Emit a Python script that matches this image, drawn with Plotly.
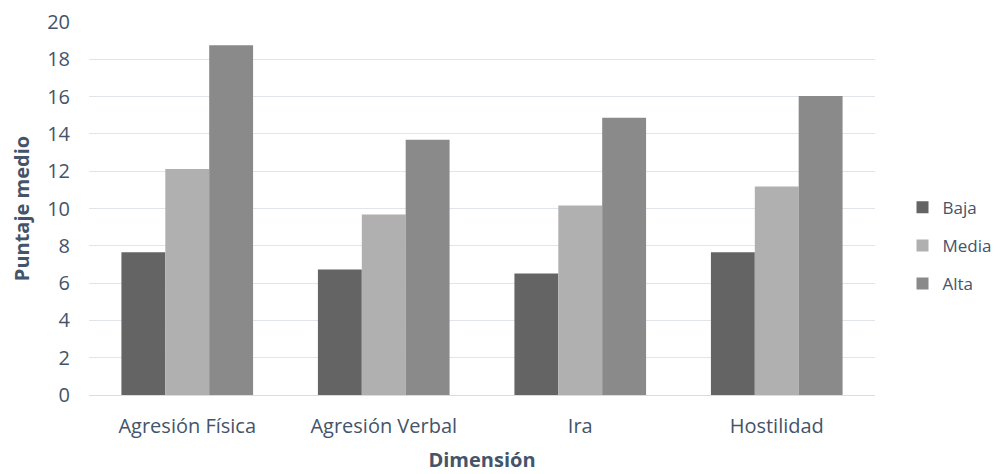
import plotly.graph_objects as go

categories = ["Agresión Física", "Agresión Verbal", "Ira", "Hostilidad"]
baja = [7.65, 6.73, 6.52, 7.66]
media = [12.12, 9.68, 10.16, 11.18]
alta = [18.76, 13.68, 14.86, 16.03]
series_names = ["Baja", "Media", "Alta"]
y_ticks = [0, 2, 4, 6, 8, 10, 12, 14, 16, 18, 20]

colors = ["#646464", "#b0b0b0", "#8a8a8a"]
text_color = "#44546a"
font_family = "Open Sans"
axis_font = 20
legend_font = 17

fig = go.Figure()
for name, vals, col in zip(series_names, [baja, media, alta], colors):
    fig.add_trace(go.Bar(
        x=categories, y=vals, name=name, legendgroup=name,
        marker=dict(color=col, line=dict(width=0)),
    ))

fig.update_layout(
    width=1000, height=474,
    paper_bgcolor="white", plot_bgcolor="white",
    margin=dict(l=81, r=128, t=14, b=87),
    barmode="group", bargap=0.33, bargroupgap=0,
    font=dict(family=font_family, size=axis_font, color=text_color),
    legend=dict(
        x=1.035, xanchor="left", y=0.40, yanchor="middle",
        traceorder="grouped", tracegroupgap=13,
        font=dict(size=legend_font, color=text_color),
        itemwidth=30,
    ),
    xaxis=dict(
        automargin=False,
        showgrid=False, showline=True, linecolor="#d9dde3", linewidth=1,
        ticks="", tickfont=dict(size=axis_font, color=text_color),
        ticklabelstandoff=13,
        title=dict(text="<b>Dimensión</b>", font=dict(size=axis_font, color=text_color), standoff=14),
    ),
    yaxis=dict(
        automargin=False,
        range=[0, 20], tickvals=y_ticks, showgrid=True,
        gridcolor="#e1e4e9", gridwidth=1, zeroline=False,
        showline=False, ticks="", ticklabelstandoff=18,
        tickfont=dict(size=axis_font, color=text_color),
        title=dict(text="<b>Puntaje medio</b>", font=dict(size=axis_font, color=text_color), standoff=12),
    ),
)

fig.write_html("out.html")
